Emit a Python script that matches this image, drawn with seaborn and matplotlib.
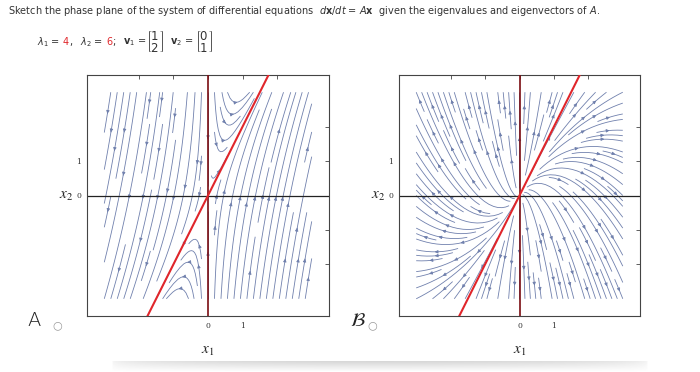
import numpy as np
import matplotlib
matplotlib.use("Agg")
import matplotlib.pyplot as plt
import seaborn as sns

# given data of the exercise
eigvals = [4, 6]
v1 = [1, 2]
v2 = [0, 1]

# eigenvalues used for the two answer choices
eigvals_a = [4, -6]   # choice A: saddle (sign of lambda2 flipped)
eigvals_b = [4, 6]    # choice B: source node

tick_pos = [-2, -1, 0, 1, 2]
tick_labels = ["", "", "0", "1", ""]
choices = ["A", "B"]

W, H = 700, 372
STREAM = "#7080ad"
RED = "#e0262b"
DARKRED = "#7a0d12"
GRAY = "#444444"
TXT = "#333333"


def px(x, y):
    # pixel position -> figure fraction
    return x / W, 1 - y / H


def system_matrix(lams):
    P = np.array([v1, v2], dtype=float).T
    return P @ np.diag(lams) @ np.linalg.inv(P)


def phase_plane(ax, lams, dens):
    M = system_matrix(lams)
    g = np.linspace(-3, 3, 121)
    X, Y = np.meshgrid(g, g)
    U = M[0, 0] * X + M[0, 1] * Y
    V = M[1, 0] * X + M[1, 1] * Y
    ax.streamplot(X, Y, U, V, density=dens, color=STREAM, linewidth=0.6,
                  arrowsize=0.45, zorder=1)

    t = np.array([-4.0, 4.0])
    ax.axhline(0, color="#222222", lw=0.9, zorder=2)
    sns.lineplot(x=t * v2[0], y=t * v2[1], ax=ax, color=DARKRED, lw=1.2,
                 sort=False, estimator=None, zorder=3)
    sns.lineplot(x=t * v1[0], y=t * v1[1], ax=ax, color=RED, lw=1.5,
                 sort=False, estimator=None, zorder=4)

    ax.set_xlim(-3.5, 3.5)
    ax.set_ylim(-3.5, 3.5)
    ax.set_xticks(tick_pos)
    ax.set_yticks(tick_pos)
    ax.set_xticklabels(tick_labels, fontsize=5.5, family="DejaVu Serif")
    ax.set_yticklabels(tick_labels, fontsize=5.5, family="DejaVu Serif")
    ax.tick_params(direction="in", length=3, width=0.6, color=GRAY,
                   top=True, right=True, pad=4, labelcolor=TXT)
    for s in ax.spines.values():
        s.set_color(GRAY)
        s.set_linewidth(0.8)
    ax.set_xlabel(r"$x_1$", fontsize=11, math_fontfamily="stix", color="#222222")
    ax.set_ylabel(r"$x_2$", fontsize=11, math_fontfamily="stix", color="#222222",
                  rotation=0, va="center", ha="center")
    ax.xaxis.set_label_coords(0.5, -0.11)
    ax.yaxis.set_label_coords(-0.085, 0.5)


sns.set_style("white")
fig = plt.figure(figsize=(W / 100, H / 100), dpi=100)

# faint page shadow along the bottom edge (drawn first, behind everything)
shade = fig.add_axes([110 / W, 0, 540 / W, 11 / H], zorder=-1)
fy = np.linspace(0, 1, 20)[:, None]
fx = np.sin(np.linspace(0, np.pi, 200))[None, :] ** 0.3
rgba = np.zeros((20, 200, 4))
rgba[..., :3] = 0.55
rgba[..., 3] = 0.35 * fy * fx
shade.imshow(rgba, aspect="auto", origin="lower")
shade.set_axis_off()

ax_a = fig.add_axes([87 / W, 1 - 316 / H, 242 / W, 241 / H])
ax_b = fig.add_axes([399 / W, 1 - 316 / H, 241 / W, 241 / H])
phase_plane(ax_a, eigvals_a, (1.1, 0.9))
phase_plane(ax_b, eigvals_b, 1.3)

# question text
fig.text(*px(8, 11), "Sketch the phase plane of the system of differential equations  "
         r"$d\mathbf{x}/dt$ = $A\mathbf{x}$  given the eigenvalues and eigenvectors of $A$.",
         fontsize=7, color=TXT, va="center", family="DejaVu Sans")

row = [
    (37, r"$\lambda_1$ =", TXT, 7),
    (63, "4", RED, 7),
    (69, ",", TXT, 7),
    (80, r"$\lambda_2$ =", TXT, 7),
    (106, "6", RED, 7),
    (112, ";", TXT, 7),
    (123, r"$\mathbf{v}_1$ =", TXT, 7),
    (146, r"$\genfrac{[}{]}{0}{0}{%d}{%d}$" % (v1[0], v1[1]), TXT, 8.5),
    (170, r"$\mathbf{v}_2$ =", TXT, 7),
    (195, r"$\genfrac{[}{]}{0}{0}{%d}{%d}$" % (v2[0], v2[1]), TXT, 8.5),
]
for x, s, c, fs in row:
    fig.text(*px(x, 42), s, fontsize=fs, color=c, va="center", family="DejaVu Sans")

# answer choice markers
fig.text(*px(27, 321), choices[0], fontsize=14, color="#222222", va="center",
         family="DejaVu Sans", fontweight="light")
fig.text(*px(52, 325), "\u25cb", fontsize=8, color="#999999", va="center")
fig.text(*px(350, 321), r"$\mathcal{%s}$" % choices[1], fontsize=14, color="#222222",
         va="center", math_fontfamily="stix")
fig.text(*px(367, 325), "\u25cb", fontsize=8, color="#999999", va="center")

fig.savefig("out.png", dpi=100)
